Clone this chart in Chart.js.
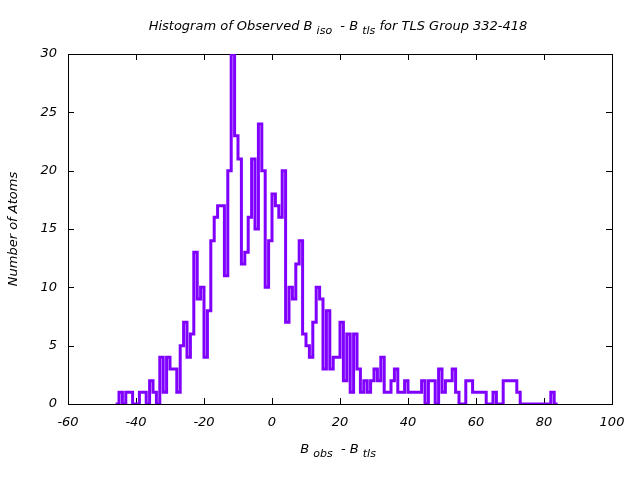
<!DOCTYPE html>
<html>
<head>
<meta charset="utf-8">
<script src="https://cdn.jsdelivr.net/npm/chart.js@4"></script>
<style>
  html, body { margin: 0; padding: 0; background: #fff; }
</style>
</head>
<body>
<canvas id="histChart" width="640" height="480"></canvas>
<script>
// left edge of each bin (width 1)
const binEdges = [
  -46, -45, -44, -43, -42, -41, -40, -39, -38, -37, -36, -35, -34, -33, -32, -31,
  -30, -29, -28, -27, -26, -25, -24, -23, -22, -21, -20, -19, -18, -17, -16, -15,
  -14, -13, -12, -11, -10, -9, -8, -7, -6, -5, -4, -3, -2, -1,
  0, 1, 2, 3, 4, 5, 6, 7, 8, 9, 10, 11, 12, 13, 14, 15, 16, 17, 18, 19,
  20, 21, 22, 23, 24, 25, 26, 27, 28, 29, 30, 31, 32, 33, 34, 35, 36, 37, 38, 39,
  40, 41, 42, 43, 44, 45, 46, 47, 48, 49, 50, 51, 52, 53, 54, 55, 56, 57, 58, 59,
  60, 61, 62, 63, 64, 65, 66, 67, 68, 69, 70, 71, 72, 73, 74, 75, 76, 77, 78, 79,
  80, 81, 82, 83, 84
];
// number of atoms in each bin
const atomCounts = [
  0, 1, 0, 1, 1, 0, 0, 1, 1, 0, 2, 1, 0, 4, 1, 4,
  3, 3, 1, 5, 7, 4, 6, 13, 9, 10, 4, 8, 14, 16, 17, 17,
  11, 20, 30, 23, 21, 12, 13, 16, 21, 15, 24, 20, 10, 14,
  18, 17, 16, 20, 7, 10, 9, 12, 14, 6, 5, 4, 7, 10, 9, 3, 8, 3, 4, 4,
  7, 2, 6, 1, 6, 3, 1, 2, 1, 2, 3, 2, 4, 1, 1, 2, 3, 1, 1, 2,
  1, 1, 1, 1, 2, 0, 2, 2, 0, 3, 1, 2, 2, 3, 1, 0, 0, 2, 2, 1,
  1, 1, 1, 0, 0, 1, 0, 0, 2, 2, 2, 2, 1, 0, 0, 0, 0, 0, 0, 0,
  0, 0, 1, 0, 0
];
const xTicks = [-60, -40, -20, 0, 20, 40, 60, 80, 100];
const yTicks = [0, 5, 10, 15, 20, 25, 30];

const labelFont = 'italic 13px "DejaVu Sans"';

// draw a string made of normal and subscript pieces, centred on cx
function drawRich(ctx, parts, cx, cy) {
  const big = labelFont;
  const small = 'italic 11px "DejaVu Sans"';
  let total = 0;
  parts.forEach(p => { ctx.font = p.sub ? small : big; total += ctx.measureText(p.t).width; });
  let xPos = cx - total / 2;
  ctx.textAlign = 'left';
  ctx.textBaseline = 'middle';
  parts.forEach(p => {
    ctx.font = p.sub ? small : big;
    ctx.fillText(p.t, xPos, p.sub ? cy + 4 : cy);
    xPos += ctx.measureText(p.t).width;
  });
}

const framePlugin = {
  id: 'frame',
  beforeDatasetsDraw(chart) {
    const { ctx, chartArea: a, scales: { x, y } } = chart;
    ctx.save();
    ctx.strokeStyle = '#000';
    ctx.lineWidth = 1;
    ctx.strokeRect(a.left + 0.5, a.top + 0.5, a.right - a.left, a.bottom - a.top);
    ctx.beginPath();
    xTicks.forEach(v => {
      const px = Math.round(x.getPixelForValue(v)) + 0.5;
      ctx.moveTo(px, a.bottom); ctx.lineTo(px, a.bottom - 6);
      ctx.moveTo(px, a.top); ctx.lineTo(px, a.top + 6);
    });
    yTicks.forEach(v => {
      const py = Math.round(y.getPixelForValue(v)) + 0.5;
      ctx.moveTo(a.left, py); ctx.lineTo(a.left + 6, py);
      ctx.moveTo(a.right, py); ctx.lineTo(a.right - 6, py);
    });
    ctx.stroke();
    ctx.restore();
  },
  afterDraw(chart) {
    const { ctx } = chart;
    ctx.save();
    ctx.fillStyle = '#000';
    drawRich(ctx, [
      { t: 'Histogram of Observed B ' }, { t: 'iso', sub: true },
      { t: '  - B ' }, { t: 'tls', sub: true },
      { t: ' for TLS Group 332-418' }
    ], 338, 27);
    drawRich(ctx, [
      { t: 'B ' }, { t: 'obs', sub: true }, { t: '  - B ' }, { t: 'tls', sub: true }
    ], 338, 450);
    ctx.translate(14, 229);
    ctx.rotate(-Math.PI / 2);
    ctx.font = labelFont;
    ctx.textAlign = 'center';
    ctx.textBaseline = 'middle';
    ctx.fillText('Number of Atoms', 0, 0);
    ctx.restore();
  }
};

const points = binEdges.map((e, i) => ({ x: e, y: atomCounts[i] }));

new Chart(document.getElementById('histChart').getContext('2d'), {
  type: 'line',
  data: {
    datasets: [{
      data: points,
      stepped: 'before',
      borderColor: '#8000ff',
      borderWidth: 3,
      pointRadius: 0,
      fill: false
    }]
  },
  options: {
    responsive: false,
    animation: false,
    layout: { padding: { top: 54, right: 28, left: 0, bottom: 0 } },
    plugins: { legend: { display: false }, tooltip: { enabled: false } },
    scales: {
      x: {
        type: 'linear',
        min: -60, max: 100,
        afterBuildTicks: s => { s.ticks = xTicks.map(v => ({ value: v })); },
        afterFit: s => { s.height = 76; },
        grid: { display: false },
        border: { display: false },
        ticks: { color: '#000', padding: 3, maxRotation: 0, font: { family: 'DejaVu Sans', style: 'italic', size: 13 } }
      },
      y: {
        min: 0, max: 30,
        afterBuildTicks: s => { s.ticks = yTicks.map(v => ({ value: v })); },
        afterFit: s => { s.width = 68; },
        grid: { display: false },
        border: { display: false },
        ticks: { color: '#000', padding: 3, font: { family: 'DejaVu Sans', style: 'italic', size: 13 } }
      }
    }
  },
  plugins: [framePlugin]
});
</script>
</body>
</html>
